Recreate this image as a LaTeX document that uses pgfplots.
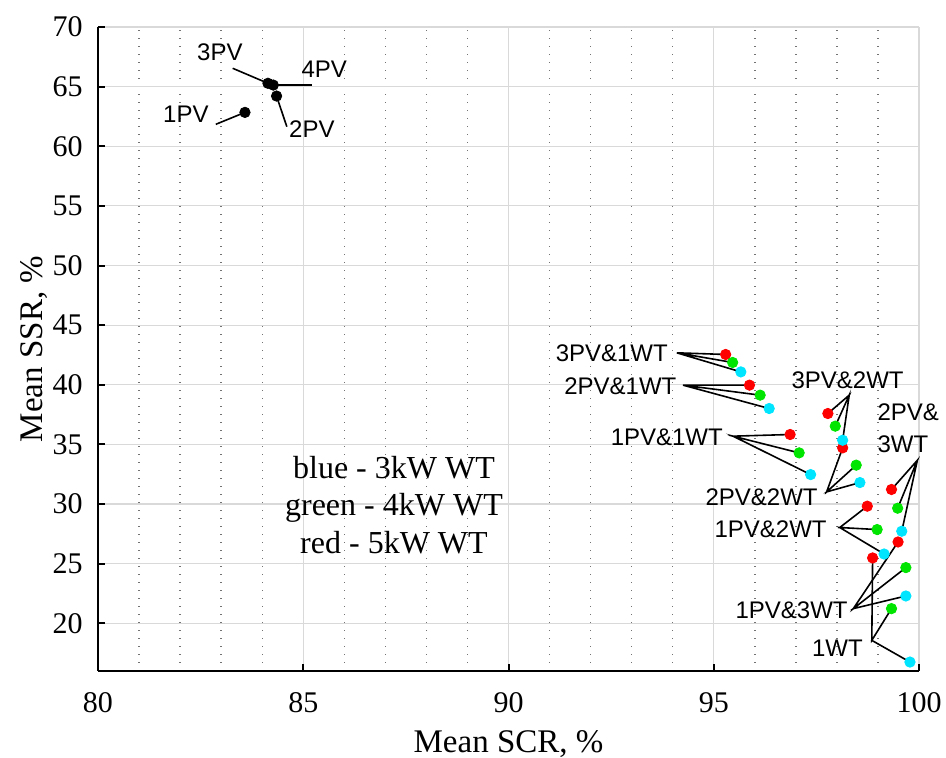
\documentclass[border=0pt]{standalone}
\usepackage{pgfplots}
\pgfplotsset{compat=1.18}
\usepackage{pgfplotstable}
\usepackage{fontspec}
\setmainfont{Liberation Serif}
\newfontfamily\labelfont{Liberation Sans}

\definecolor{wtblue}{rgb}{0,0.9,1}
\definecolor{wtgreen}{rgb}{0,0.9,0}
\definecolor{wtred}{rgb}{1,0,0}
\definecolor{majorgrid}{gray}{0.85}
\definecolor{minorgrid}{gray}{0.45}

% Mean SCR (%) and mean SSR (%) for each configuration
% 3 kW wind turbine
\pgfplotstableread{
x     y
95.66 41.08
96.35 38.01
97.36 32.47
98.14 35.35
98.56 31.80
99.15 25.81
99.58 27.72
99.68 22.29
99.78 16.75
}\wtthree
% 4 kW wind turbine
\pgfplotstableread{
x     y
95.46 41.87
96.13 39.13
97.08 34.29
97.96 36.53
98.47 33.26
98.98 27.86
99.48 29.65
99.68 24.67
99.33 21.23
}\wtfour
% 5 kW wind turbine
\pgfplotstableread{
x     y
95.29 42.54
95.87 39.97
96.86 35.83
97.78 37.59
98.14 34.71
98.74 29.82
99.33 31.22
99.49 26.82
98.87 25.48
}\wtfive
% PV only
\pgfplotstableread{
x     y
83.58 62.84
84.35 64.21
84.14 65.28
84.27 65.13
}\pvonly

\tikzset{lbl/.style={font=\labelfont\fontsize{12}{14}\selectfont, inner sep=0pt}}

\begin{document}
\begin{tikzpicture}
\begin{axis}[
  at={(0,0)}, anchor=south west,
  scale only axis, width=410.5pt, height=322pt,
  xmin=80, xmax=100, ymin=16, ymax=70,
  xtick={80,85,...,100}, ytick={20,25,...,70},
  minor x tick num=4,
  axis lines*=left,
  tick align=inside,
  major tick length=3.5pt, minor tick length=0pt,
  xmajorgrids, ymajorgrids, xminorgrids,
  major grid style={majorgrid, line width=0.6pt},
  minor grid style={minorgrid, line width=0.7pt, dash pattern=on 0.7pt off 3.3pt},
  axis line style={line width=1.2pt},
  every tick/.style={black, line width=1pt},
  /pgf/number format/assume math mode=true,
  tick label style={font=\fontsize{15}{17}\selectfont},
  xticklabel style={anchor=base, inner sep=0pt, yshift=-21pt},
  yticklabel style={anchor=east, inner sep=0pt, xshift=-7.5pt},
  xlabel={Mean SCR, \%}, ylabel={Mean SSR, \%},
  label style={font=\fontsize{16.5}{18}\selectfont},
  xlabel style={at={(axis description cs:0.5,-0.1258)}, anchor=base, inner sep=0pt},
  ylabel style={at={(axis description cs:-0.067,0.5)}, anchor=base, inner sep=0pt},
  clip=false,
]
% leader lines from each label to its points
\pgfplotsset{leader/.style={black, line width=0.8pt, no marks, forget plot}}
\addplot[leader] coordinates {(83.28,66.54) (84.14,65.28)};
\addplot[leader] coordinates {(84.27,65.13) (85.22,65.13)};
\addplot[leader] coordinates {(84.35,64.21) (84.60,61.64)};
\addplot[leader] coordinates {(82.87,61.84) (83.58,62.84)};
\addplot[leader] coordinates {(95.29,42.54) (94.10,42.68) (95.46,41.87) (94.10,42.68) (95.66,41.08)};
\addplot[leader] coordinates {(95.87,39.97) (94.25,39.97) (96.13,39.13) (94.25,39.97) (96.35,38.01)};
\addplot[leader] coordinates {(96.86,35.83) (95.47,35.69) (97.08,34.29) (95.47,35.69) (97.36,32.47)};
\addplot[leader] coordinates {(97.78,37.59) (98.30,39.13) (97.96,36.53) (98.30,39.13) (98.14,35.35)};
\addplot[leader] coordinates {(98.14,34.71) (97.75,31.02) (98.47,33.26) (97.75,31.02) (98.56,31.80)};
\addplot[leader] coordinates {(99.33,31.22) (99.96,33.67) (99.48,29.65) (99.96,33.67) (99.58,27.72)};
\addplot[leader] coordinates {(98.74,29.82) (98.07,28.03) (98.98,27.86) (98.07,28.03) (99.15,25.81)};
\addplot[leader] coordinates {(99.49,26.82) (98.40,21.23) (99.68,24.67) (98.40,21.23) (99.68,22.29)};
\addplot[leader] coordinates {(98.87,25.48) (98.85,18.57) (99.33,21.23) (98.85,18.57) (99.78,16.75)};

% points
\addplot[only marks, mark=*, mark size=2.6pt, mark options={draw=black, fill=black}] table {\pvonly};
\addplot[only marks, mark=*, mark size=2.6pt, mark options={draw=wtred, fill=wtred}] table {\wtfive};
\addplot[only marks, mark=*, mark size=2.6pt, mark options={draw=wtgreen, fill=wtgreen}] table {\wtfour};
\addplot[only marks, mark=*, mark size=2.6pt, mark options={draw=wtblue, fill=wtblue}] table {\wtthree};

% configuration labels
\node[lbl] at (axis cs:82.97,67.90) {3PV};
\node[lbl] at (axis cs:85.51,66.48) {4PV};
\node[lbl] at (axis cs:85.21,61.44) {2PV};
\node[lbl] at (axis cs:82.14,62.70) {1PV};
\node[lbl, anchor=east] at (axis cs:93.89,42.65) {3PV\&1WT};
\node[lbl, anchor=east] at (axis cs:94.10,39.87) {2PV\&1WT};
\node[lbl, anchor=east] at (axis cs:95.23,35.56) {1PV\&1WT};
\node[lbl] at (axis cs:98.26,40.34) {3PV\&2WT};
\node[lbl, anchor=west] at (axis cs:98.98,37.70) {2PV\&};
\node[lbl, anchor=west] at (axis cs:98.98,35.02) {3WT};
\node[lbl, anchor=east] at (axis cs:97.54,30.57) {2PV\&2WT};
\node[lbl, anchor=east] at (axis cs:97.76,27.89) {1PV\&2WT};
\node[lbl, anchor=east] at (axis cs:98.27,21.09) {1PV\&3WT};
\node[lbl, anchor=east] at (axis cs:98.64,17.94) {1WT};

% colour key
\node[font=\fontsize{16}{18}\selectfont, anchor=base] at (axis cs:87.21,32.16) {blue - 3kW WT};
\node[font=\fontsize{16}{18}\selectfont, anchor=base] at (axis cs:87.21,29.05) {green - 4kW WT};
\node[font=\fontsize{16}{18}\selectfont, anchor=base] at (axis cs:87.21,25.87) {red - 5kW WT};
\end{axis}
\pgfresetboundingbox
\path[use as bounding box] (-49pt,-43.5pt) rectangle (424pt,335.5pt);
\end{tikzpicture}
\end{document}
